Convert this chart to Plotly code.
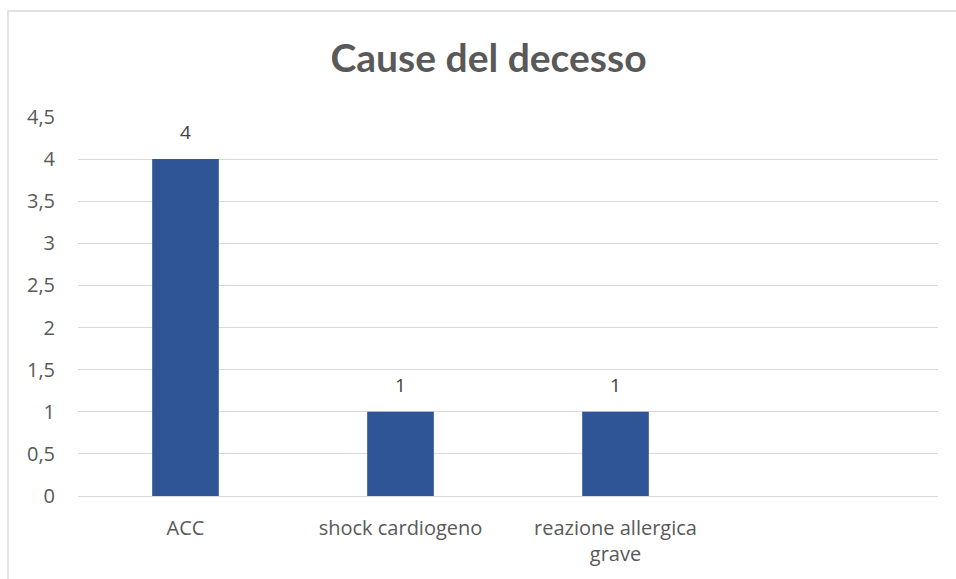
import plotly.graph_objects as go

categories = ["ACC", "shock cardiogeno", "reazione allergica<br>grave", " "]
values = [4, 1, 1, None]
title_text = "Cause del decesso"

tick_font = "'Open Sans', sans-serif"
title_font = "Lato, 'Open Sans', sans-serif"

fig = go.Figure(
    go.Bar(
        x=categories,
        y=values,
        marker=dict(color="#2F5597", line=dict(width=0)),
        hoverinfo="skip",
    )
)

annotations = [
    dict(
        x=c, y=v, xref="x", yref="y",
        text=str(v), showarrow=False,
        yanchor="bottom", yshift=12,
        font=dict(size=19, color="#404040", family=tick_font),
    )
    for c, v in zip(categories, values) if v is not None
]

fig.update_layout(
    width=956,
    height=579,
    margin=dict(l=78, r=18, t=117, b=83),
    paper_bgcolor="white",
    plot_bgcolor="white",
    separators=",.",
    bargap=0.69,
    showlegend=False,
    font=dict(family=tick_font, size=20, color="#595959"),
    title=dict(
        text="<b>" + title_text + "</b>",
        x=0.511,
        xanchor="center",
        y=0.9,
        yanchor="middle",
        font=dict(size=39, color="#595959", family=title_font),
    ),
    xaxis=dict(
        type="category",
        showgrid=False,
        showline=True,
        linecolor="#d9d9d9",
        linewidth=1,
        ticks="",
        tickfont=dict(size=20, color="#595959"),
        ticklabelstandoff=14,
    ),
    yaxis=dict(
        range=[0, 4.5],
        dtick=0.5,
        tick0=0,
        showgrid=True,
        gridcolor="#d9d9d9",
        gridwidth=1,
        zeroline=True,
        zerolinecolor="#d9d9d9",
        zerolinewidth=1,
        showline=False,
        ticks="",
        tickfont=dict(size=20, color="#595959"),
        ticklabelstandoff=22,
    ),
    annotations=annotations,
    shapes=[
        dict(
            type="path",
            xref="paper",
            yref="paper",
            path="M -0.0814,-0.3 L -0.0814,1.2797 L 1.05,1.2797",
            line=dict(color="#d9d9d9", width=1.5),
        )
    ],
)

fig.write_html(
    "out.html",
    config={"displayModeBar": False},
    post_script="document.body.style.margin='0';document.body.style.overflow='hidden';",
)
